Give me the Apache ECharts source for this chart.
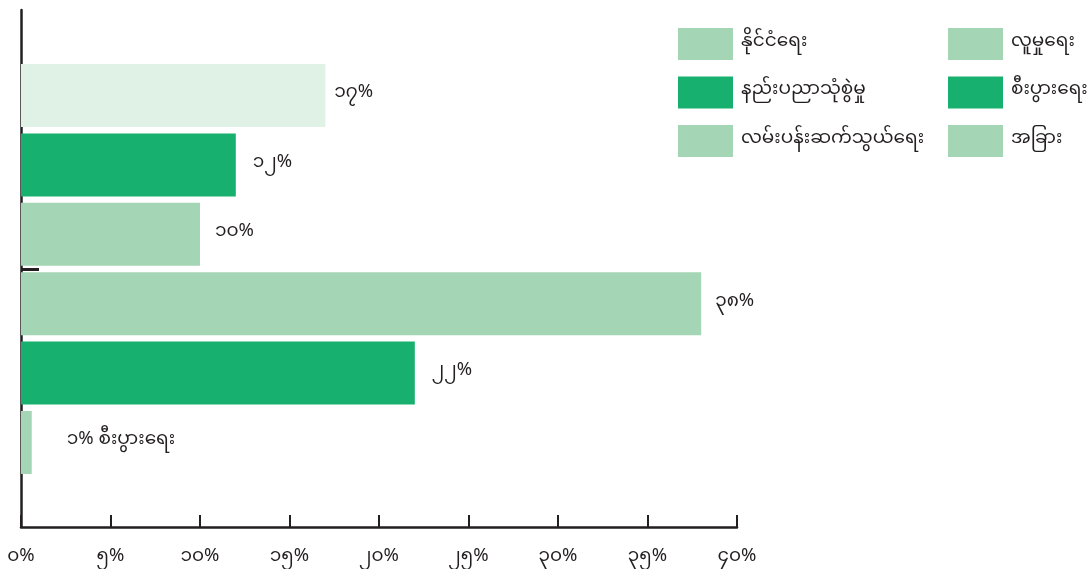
<!DOCTYPE html>
<html>
<head>
<meta charset="utf-8">
<script src="https://cdn.jsdelivr.net/npm/echarts@6/dist/echarts.min.js"></script>
<style>
html,body{margin:0;padding:0;background:#fff;}
#chart{width:1087px;height:569px;}
</style>
</head>
<body>
<div id="chart"></div>
<script>
// ---- data ----
var categories = ['နိုင်ငံရေး', 'နည်းပညာသုံစွဲမှု', 'လမ်းပန်းဆက်သွယ်ရေး', 'လူမှုရေး', 'စီးပွားရေး', 'အခြား'];
var values = [17, 12, 10, 38, 22, 0.6];
var barLabels = ['၁၇%', '၁၂%', '၁၀%', '၃၈%', '၂၂%', '၁% စီးပွားရေး'];
var xTicks = [0, 5, 10, 15, 20, 25, 30, 35, 40];
var legendCol1 = ['နိုင်ငံရေး', 'နည်းပညာသုံစွဲမှု', 'လမ်းပန်းဆက်သွယ်ရေး'];
var legendCol2 = ['လူမှုရေး', 'စီးပွားရေး', 'အခြား'];

// ---- style ----
var LIGHT = '#a4d5b5', DARK = '#17b06e', PALE = '#e0f1e6', INK = '#231f20';
var seriesColors = [LIGHT, DARK, LIGHT, LIGHT, DARK, LIGHT];
var labelGaps = [9, 17, 15, 14, 17, 35];
var FONT = "'Noto Sans Myanmar', 'Padauk', 'Myanmar Text', 'Noto Sans', sans-serif";

function toMy(n) {
  var d = '၀၁၂၃၄၅၆၇၈၉';
  return String(n).replace(/[0-9]/g, function (c) { return d[+c]; });
}

var series = categories.map(function (name, i) {
  var data = categories.map(function (c, j) {
    if (j !== i) return '-';
    var item = { value: values[i], label: { distance: labelGaps[i] } };
    if (i === 0) item.itemStyle = { color: PALE };
    return item;
  });
  return {
    name: name,
    type: 'bar',
    xAxisIndex: 1,
    yAxisIndex: 1,
    stack: 'all',
    barWidth: 63,
    itemStyle: { color: seriesColors[i] },
    label: {
      show: true,
      position: 'right',
      color: INK,
      fontSize: 18.5,
      fontFamily: FONT,
      formatter: function (p) { return barLabels[p.dataIndex]; }
    },
    emphasis: { disabled: true },
    data: data
  };
});

var legendBase = {
  orient: 'vertical', top: 28, padding: 0,
  itemWidth: 55, itemHeight: 32, itemGap: 16.5, icon: 'rect', selectedMode: false,
  textStyle: { color: INK, fontSize: 18.5, fontFamily: FONT, padding: [0, 0, 0, 3] }
};

var chart = echarts.init(document.getElementById('chart'), null, { renderer: 'canvas' });
chart.setOption({
  animation: false,
  backgroundColor: '#fff',
  textStyle: { fontFamily: FONT },
  legend: [
    Object.assign({}, legendBase, { data: legendCol1, left: 678 }),
    Object.assign({}, legendBase, { data: legendCol2, left: 948 })
  ],
  grid: [
    { left: 21, right: 350, top: 10, bottom: 41 },
    { left: 21, right: 350, top: 60.8, bottom: 91.8 }
  ],
  xAxis: [
    {
      gridIndex: 0, type: 'value', min: 0, max: 40, interval: 5,
      axisLine: { show: true, lineStyle: { color: INK, width: 2.5 } },
      axisTick: { show: true, inside: true, length: 12, lineStyle: { color: INK, width: 2 } },
      axisLabel: {
        color: INK, fontSize: 18.5, fontFamily: FONT, margin: 23,
        formatter: function (v) { return xTicks.indexOf(v) >= 0 ? toMy(v) + '%' : ''; }
      },
      splitLine: { show: false }
    },
    {
      gridIndex: 1, type: 'value', min: 0, max: 40, interval: 5, show: false
    }
  ],
  yAxis: [
    {
      gridIndex: 0, type: 'value', position: 'left',
      axisLine: { show: true, lineStyle: { color: INK, width: 2.5 } },
      axisTick: { show: false }, axisLabel: { show: false }, splitLine: { show: false }
    },
    {
      gridIndex: 1, type: 'category', data: categories, inverse: true, position: 'left',
      axisLine: { show: false }, axisLabel: { show: false },
      axisTick: { show: false }, splitLine: { show: false }
    },
    {
      // band boundaries axis: only used to draw the single separator tick
      gridIndex: 1, type: 'category', data: categories.concat(['']), inverse: true,
      position: 'left', boundaryGap: false,
      axisLine: { show: false, onZero: false }, axisLabel: { show: false }, splitLine: { show: false },
      axisTick: {
        show: true, inside: true, length: 18,
        interval: function (i) { return i === 3; },
        lineStyle: { color: INK, width: 3 }
      }
    }
  ],
  series: series
});
</script>
</body>
</html>
